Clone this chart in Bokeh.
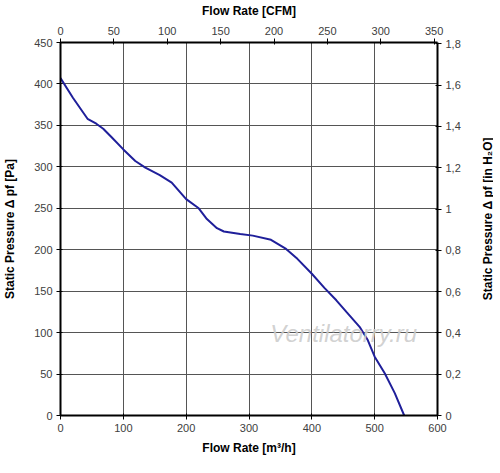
import math
from bokeh.plotting import figure
from bokeh.layouts import row
from bokeh.models import LinearAxis, Range1d, FixedTicker, CustomJSTickFormatter, Label
from bokeh.embed import file_html
from bokeh.resources import INLINE

# data
flow_m3h = [0, 20, 43, 57, 68, 81, 100, 119, 135, 158, 177, 200, 220, 233, 249, 260,
            286, 306, 335, 359, 377, 400, 420, 439, 455, 476, 489, 500, 516, 532, 547]
pressure_pa = [407, 383, 358, 352, 346, 336, 321, 307, 299, 290, 281, 261, 250, 237, 226, 222,
               219, 217, 212, 201, 189, 171, 154, 139, 125, 107, 91, 71, 51, 27, 0]

x_ticks = [0, 100, 200, 300, 400, 500, 600]
y_ticks = [0, 50, 100, 150, 200, 250, 300, 350, 400, 450]
cfm_ticks = [0, 50, 100, 150, 200, 250, 300, 350]
inh2o_ticks = [0, 0.2, 0.4, 0.6, 0.8, 1, 1.2, 1.4, 1.6, 1.8]

M3H_PER_CFM = 1.699
PA_PER_INH2O = 249.09

FONT = "Liberation Sans"
TICK_COLOR = "#404040"

p = figure(width=454, height=457, output_backend="svg", toolbar_location=None,
           x_range=Range1d(0, 600), y_range=Range1d(0, 450),
           min_border_left=54, min_border_right=23, min_border_top=37, min_border_bottom=47,
           x_axis_location=None, y_axis_location=None)
p.frame_width = 377
p.frame_height = 373
p.outline_line_color = None
p.background_fill_color = "white"

p.extra_x_ranges = {"cfm": Range1d(0, 600 / M3H_PER_CFM)}
p.extra_y_ranges = {"inh2o": Range1d(0, 450 / PA_PER_INH2O)}

bottom = LinearAxis(ticker=FixedTicker(ticks=x_ticks), axis_label="Flow Rate [m³/h]")
left = LinearAxis(ticker=FixedTicker(ticks=y_ticks), axis_label="Static Pressure Δ pf [Pa]")
top = LinearAxis(x_range_name="cfm", ticker=FixedTicker(ticks=cfm_ticks), axis_label="Flow Rate [CFM]")
right = LinearAxis(y_range_name="inh2o", ticker=FixedTicker(ticks=inh2o_ticks),
                   formatter=CustomJSTickFormatter(code="let s = String(Math.round(tick*10)/10); return s.replace('.', ',');"))
p.add_layout(bottom, "below")
p.add_layout(left, "left")
p.add_layout(top, "above")
p.add_layout(right, "right")

for ax in [bottom, left, top, right]:
    ax.axis_line_color = "black"
    ax.axis_line_width = 2
    ax.major_tick_line_color = "black"
    ax.major_tick_line_width = 1
    ax.major_tick_in = 2
    ax.major_tick_out = 4
    ax.minor_tick_line_color = None
    ax.major_label_text_font = FONT
    ax.major_label_text_font_size = "11px"
    ax.major_label_text_color = TICK_COLOR
    ax.axis_label_text_font = FONT
    ax.axis_label_text_font_size = "12px"
    ax.axis_label_text_font_style = "bold"
    ax.axis_label_text_color = "black"
    ax.major_label_standoff = 4
    ax.axis_label_standoff = 6

left.major_label_orientation = "horizontal"
right.major_label_orientation = "horizontal"
left.axis_label_standoff = 14

p.xgrid.ticker = FixedTicker(ticks=x_ticks)
p.ygrid.ticker = FixedTicker(ticks=y_ticks)
p.xgrid.grid_line_color = "#555555"
p.ygrid.grid_line_color = "#555555"
p.xgrid.grid_line_width = 1
p.ygrid.grid_line_width = 1

p.add_layout(Label(x=334, y=99, text="Ventilatorry.ru", text_font=FONT, text_font_size="24px",
                   text_font_style="italic", text_color="#cccccc", text_baseline="middle",
                   text_align="left", text_alpha=0.9))

p.line(flow_m3h, pressure_pa, line_color="#1f1f9a", line_width=2)

# narrow strip holding the right-hand title, reading bottom to top like the reference
side = figure(width=30, height=457, output_backend="svg", toolbar_location=None,
              x_range=Range1d(0, 30), y_range=Range1d(0, 457),
              min_border=0, x_axis_location=None, y_axis_location=None)
side.outline_line_color = None
side.xgrid.visible = False
side.ygrid.visible = False
side.add_layout(Label(x=24, y=238, text="Static Pressure Δ pf [in H₂O]",
                      angle=math.pi / 2, text_font=FONT, text_font_size="12px",
                      text_font_style="bold", text_color="black",
                      text_align="center", text_baseline="middle"))

layout = row(p, side)
open("out.html", "w").write(file_html(layout, INLINE))
